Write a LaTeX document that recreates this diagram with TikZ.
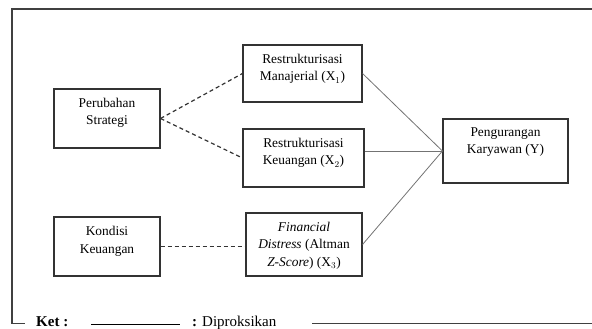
\documentclass[tikz,border=0pt]{standalone}
\usepackage{fontspec}
\setmainfont{Liberation Serif}
\usetikzlibrary{positioning}

\tikzset{
  kotak/.style={draw=black!80, line width=1.1pt, inner sep=0pt},
  isi/.style={align=center, inner sep=0pt, font=\fontsize{13.4}{17.5}\selectfont},
  putus/.style={draw=black!80, line width=1.2pt, dash pattern=on 4pt off 3pt},
  garis/.style={draw=black!55, line width=0.8pt},
  bingkai/.style={draw=black!75, line width=1.2pt}
}

\begin{document}
\begin{tikzpicture}[>=latex, x=1pt, y=-1pt]
\useasboundingbox (0,0) rectangle (592,329);

\draw[bingkai] (592,9) -- (12,9) -- (12,323.5) -- (25,323.5);
\draw[bingkai] (312,323.5) -- (592,323.5);

\node[kotak, minimum width=106pt, minimum height=59pt] (ps) at (107,118.5) {};
\node[kotak, minimum width=119pt, minimum height=57pt] (x1) at (302.5,73.5) {};
\node[kotak, minimum width=121pt, minimum height=58pt] (x2) at (303.5,158) {};
\node[kotak, minimum width=106pt, minimum height=59pt] (kk) at (107,246.5) {};
\node[kotak, minimum width=116pt, minimum height=63pt] (x3) at (304,244.5) {};
\node[kotak, minimum width=125pt, minimum height=64pt] (yy) at (505.5,151) {};

\node[isi, below=9.5pt of ps.north] (tps) {Perubahan\\Strategi};
\node[isi, below=9.5pt of x1.north] (tx1) {Restrukturisasi\\Manajerial (X$_1$)};
\node[isi, below=9.5pt of x2.north] (tx2) {Restrukturisasi\\Keuangan (X$_2$)};
\node[isi, below=10pt of kk.north] (tkk) {Kondisi\\Keuangan};
\node[isi, below=9.5pt of x3.north] (tx3) {\textit{Financial}\\\textit{Distress} (Altman\\\textit{Z-Score}) (X$_3$)};
\node[isi, below=9pt of yy.north] (tyy) {Pengurangan\\Karyawan (Y)};

\draw[putus] (ps.east) -- (x1.west);
\draw[putus] (ps.east) -- (x2.west);
\draw[putus] (kk.east) -- (kk.east -| x3.west);

\draw[garis] (x1.east) -- (yy.west);
\draw[garis] (yy.west -| x2.east) -- (yy.west);
\draw[garis] (x3.east) -- (yy.west);

\node[anchor=base west, inner sep=0pt, font=\fontsize{15}{18}\selectfont\bfseries] (ket) at (36,326) {Ket :};
\coordinate (ka) at (91,324);
\coordinate (kb) at (180,324);
\draw[line width=1pt] (ka) -- (kb);
\node[anchor=base west, inner sep=0pt, font=\fontsize{15}{18}\selectfont] (prox) at (192,326) {\textbf{:} Diproksikan};

\end{tikzpicture}
\end{document}
